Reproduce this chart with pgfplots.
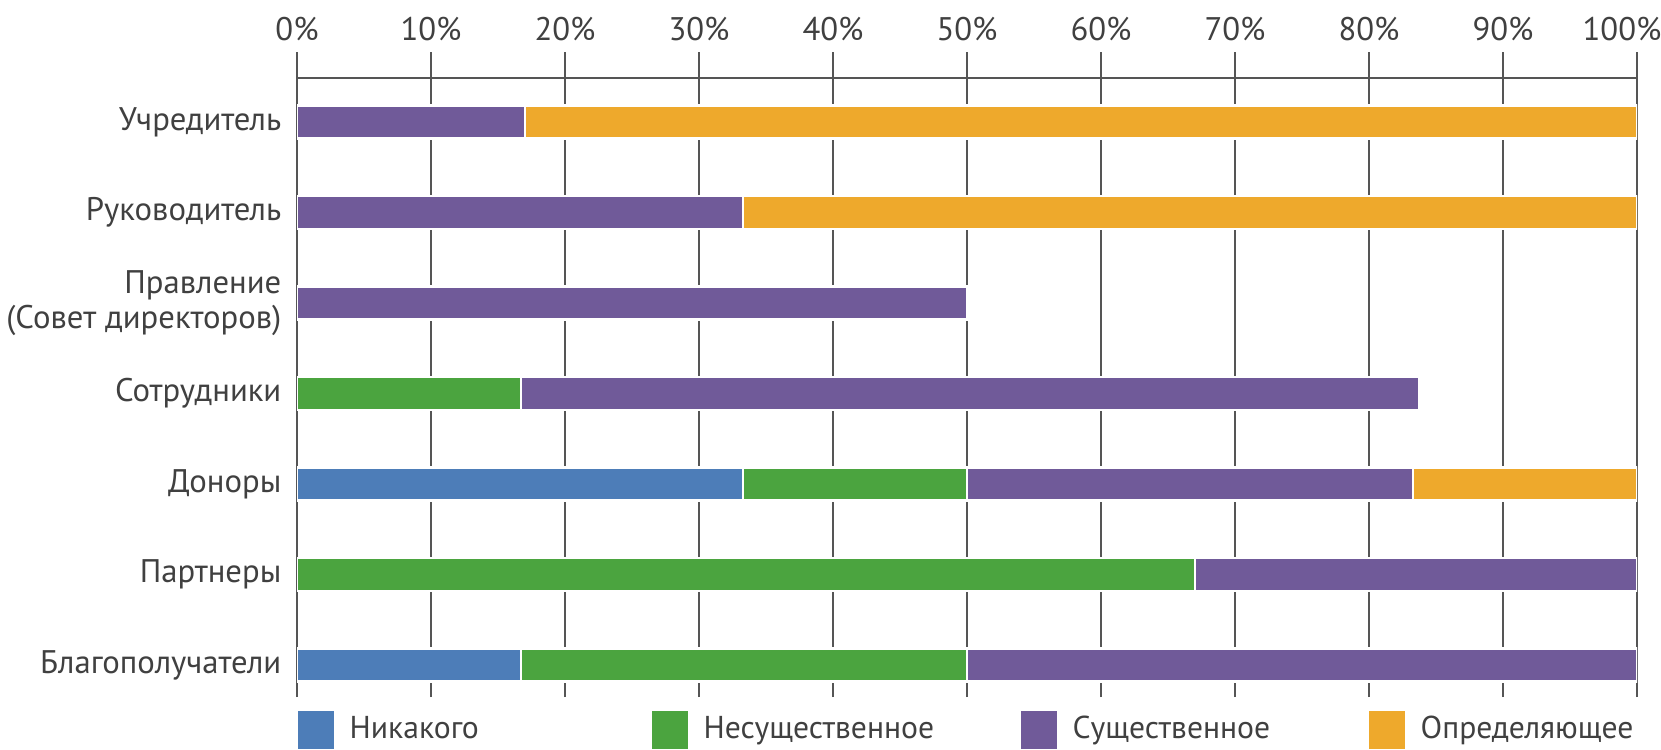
\documentclass[border=0pt]{standalone}
\usepackage{pgfplots}
\pgfplotsset{compat=1.18}
\usepackage{fontspec}
\setmainfont{PT Sans}
\definecolor{cBlue}{HTML}{4D7DB8}
\definecolor{cGreen}{HTML}{4BA43F}
\definecolor{cPurple}{HTML}{705A99}
\definecolor{cOrange}{HTML}{EEA92C}
\definecolor{cText}{HTML}{404040}
\definecolor{cGrid}{HTML}{555555}
\begin{document}
\begin{tikzpicture}
\useasboundingbox (0,0) rectangle (16.61,7.49);
\begin{axis}[
  at={(2.97cm,0.52cm)}, anchor=south west,
  scale only axis, width=13.40cm, height=6.19cm,
  xbar stacked, bar width=0.33cm,
  xmin=0, xmax=100, ymin=-0.354, ymax=6.486,
  axis x line*=top, axis y line*=left,
  y axis line style={draw=none},
  x axis line style={cGrid, line width=0.7pt},
  xmajorgrids, grid style={cGrid, line width=0.7pt},
  tick align=outside, major tick length=0.26cm,
  xtick style={cGrid, line width=0.7pt},
  ytick style={draw=none},
  xtick={0,10,...,100},
  xticklabels={0\%,10\%,20\%,30\%,40\%,50\%,60\%,70\%,80\%,90\%,\hspace*{-0.3cm}100\%},
  xticklabel style={font=\fontsize{9.3}{10}\selectfont, text=cText, inner sep=0pt, yshift=3pt},
  ytick={0,...,6},
  yticklabels={Благополучатели,Партнеры,Доноры,Сотрудники,{Правление\\(Совет директоров)},Руководитель,Учредитель},
  yticklabel style={font=\fontsize{9.3}{9.8}\selectfont, text=cText, align=right, anchor=east, inner sep=0pt, xshift=0.11cm},
  legend columns=4,
  legend style={draw=none, fill=none, at={(0,-0.0533)}, anchor=west, inner sep=0pt,
    font=\fontsize{9}{10}\selectfont, text=cText,
    nodes={inner sep=0pt, anchor=west},
    /tikz/every odd column/.style={column sep=0.16cm},
    /tikz/every even column/.style={column sep=0pt}},
  sq/.style={draw=white, line width=0.6pt,
    legend image code/.code={\fill[##1,draw=none] (0cm,-0.19cm) rectangle (0.36cm,0.19cm);}},
]
\addplot[fill=cBlue, sq] coordinates {(16.7,0) (0,1) (33.3,2) (0,3) (0,4) (0,5) (0,6)};
\addlegendentry{\makebox[3.02cm][l]{Никакого}}
\addplot[fill=cGreen, sq] coordinates {(33.3,0) (67,1) (16.7,2) (16.7,3) (0,4) (0,5) (0,6)};
\addlegendentry{\makebox[3.17cm][l]{Несущественное}}
\addplot[fill=cPurple, sq] coordinates {(50,0) (33,1) (33.3,2) (67,3) (50,4) (33.3,5) (17,6)};
\addlegendentry{\makebox[2.96cm][l]{Существенное}}
\addplot[fill=cOrange, sq] coordinates {(0,0) (0,1) (16.7,2) (0,3) (0,4) (66.7,5) (83,6)};
\addlegendentry{Определяющее}
\end{axis}
\end{tikzpicture}
\end{document}
